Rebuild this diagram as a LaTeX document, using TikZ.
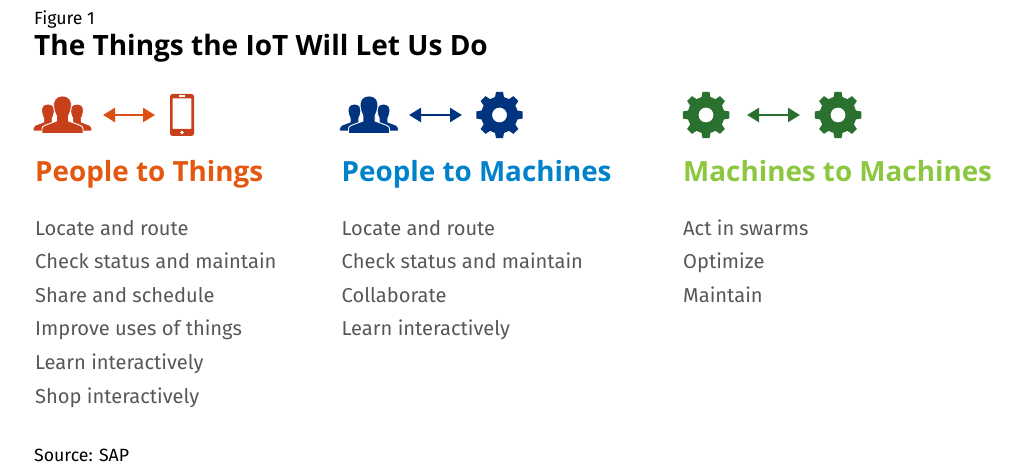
\documentclass[tikz,border=0pt]{standalone}
\usepackage{fontspec}
\setmainfont{Fira Sans}
\newfontfamily\headfont{Open Sans}
\definecolor{thingred}{HTML}{C8401A}
\definecolor{thingorange}{HTML}{E3570F}
\definecolor{machblue}{HTML}{00347F}
\definecolor{headblue}{HTML}{0082CA}
\definecolor{machgreen}{HTML}{2A7130}
\definecolor{headgreen}{HTML}{8DC63F}
\definecolor{bodygrey}{HTML}{55585A}
\usetikzlibrary{arrows.meta}
\tikzset{
  figlabel/.style={anchor=base west,inner sep=0pt,font=\fontsize{17.7}{20}\selectfont,text=black},
  figtitle/.style={anchor=base west,inner sep=0pt,font=\headfont\fontsize{28}{32}\selectfont\bfseries,text=black},
  heading/.style={anchor=base west,inner sep=0pt,font=\headfont\fontsize{27.8}{32}\selectfont\bfseries},
  item/.style={anchor=base west,inner sep=0pt,font=\fontsize{20.1}{24}\selectfont,text=bodygrey},
  swaparrow/.style={line width=2.4pt,{Triangle[length=12pt,width=14pt]}-{Triangle[length=12pt,width=14pt]}}
}
% one head with shoulders, #1 x, #2 y of the crown, #3 colour, #4 scale
\newcommand{\personicon}[4]{
  \fill [#3,draw=white,line width=0.9pt,shift={(#1,#2)},scale=#4]
    (0,0) .. controls (-7.5,0) and (-9.5,5) .. (-8.8,11)
    .. controls (-8.3,15) and (-7,18) .. (-6,20)
    -- (-6,25) -- (-18,29.5) .. controls (-20,30.5) and (-20.5,31.5) .. (-20.5,33)
    -- (-20.5,37.5) -- (20.5,37.5) -- (20.5,33)
    .. controls (20.5,31.5) and (20,30.5) .. (18,29.5)
    -- (6,25) -- (6,20)
    .. controls (7,18) and (8.3,15) .. (8.8,11)
    .. controls (9.5,5) and (7.5,0) .. (0,0) -- cycle;
}
\newcommand{\peopleicon}[3]{
  \personicon{#1-14.5}{#2+8}{#3}{0.72}
  \personicon{#1+14.5}{#2+8}{#3}{0.72}
  \personicon{#1}{#2}{#3}{1}
}
% gear with eight teeth, #1 x, #2 y, #3 colour
\newcommand{\gearicon}[3]{
  \fill [#3,even odd rule,shift={(#1,#2)}]
    (76:18.5) \foreach \a in {0,45,...,315} {
      -- ({90+\a-8.5}:23.5) -- ({90+\a+8.5}:23.5) -- ({90+\a+14}:18.5) -- ({90+\a+31}:18.5)
    } -- cycle
    (0,0) circle (7.5);
}
\begin{document}
\begin{tikzpicture}[x=1pt,y=-1pt]
  \useasboundingbox (0,0) rectangle (1024,473);

  \node [figlabel] (figno) at (34,25) {Figure 1};
  \node [figtitle] (title) at (34,56) {The Things the IoT Will Let Us Do};

  % people to things
  \peopleicon{62.5}{96}{thingred}
  \coordinate (a1) at (103,115);
  \coordinate (a2) at (155,115);
  \draw [swaparrow,thingorange!70!thingred] (a1) -- (a2);
  \fill [thingred,even odd rule,rounded corners=2.5pt] (170,94) rectangle (194,136)
    [sharp corners] (172.7,98.5) rectangle (191.3,129);
  \fill [white] (179,95.4) rectangle (185,97);
  \fill [white] (182,132.5) circle (1.8);
  \node [heading,text=thingorange] (head1) at (35,182) {People to Things};

  \node [item] (p1) at (35,235) {Locate and route};
  \node [item] (p2) at (35,268.6) {Check status and maintain};
  \node [item] (p3) at (35,302.2) {Share and schedule};
  \node [item] (p4) at (35,335.8) {Improve uses of things};
  \node [item] (p5) at (35,369.4) {Learn interactively};
  \node [item] (p6) at (35,403) {Shop interactively};

  % people to machines
  \peopleicon{369}{96}{machblue}
  \coordinate (b1) at (409,115);
  \coordinate (b2) at (462,115);
  \draw [swaparrow,machblue] (b1) -- (b2);
  \gearicon{499.5}{115}{machblue}
  \node [heading,text=headblue] (head2) at (341.5,182) {People to Machines};

  \node [item] (q1) at (341.5,235) {Locate and route};
  \node [item] (q2) at (341.5,268.6) {Check status and maintain};
  \node [item] (q3) at (341.5,302.2) {Collaborate};
  \node [item] (q4) at (341.5,335.8) {Learn interactively};

  % machines to machines
  \gearicon{706}{115}{machgreen}
  \coordinate (c1) at (747,115);
  \coordinate (c2) at (800,115);
  \draw [swaparrow,machgreen] (c1) -- (c2);
  \gearicon{838}{115}{machgreen}
  \node [heading,text=headgreen] (head3) at (683,182) {Machines to Machines};

  \node [item] (r1) at (683,235) {Act in swarms};
  \node [item] (r2) at (683,268.6) {Optimize};
  \node [item] (r3) at (683,302.2) {Maintain};

  \node [figlabel] (source) at (34,461) {Source: SAP};
\end{tikzpicture}
\end{document}
